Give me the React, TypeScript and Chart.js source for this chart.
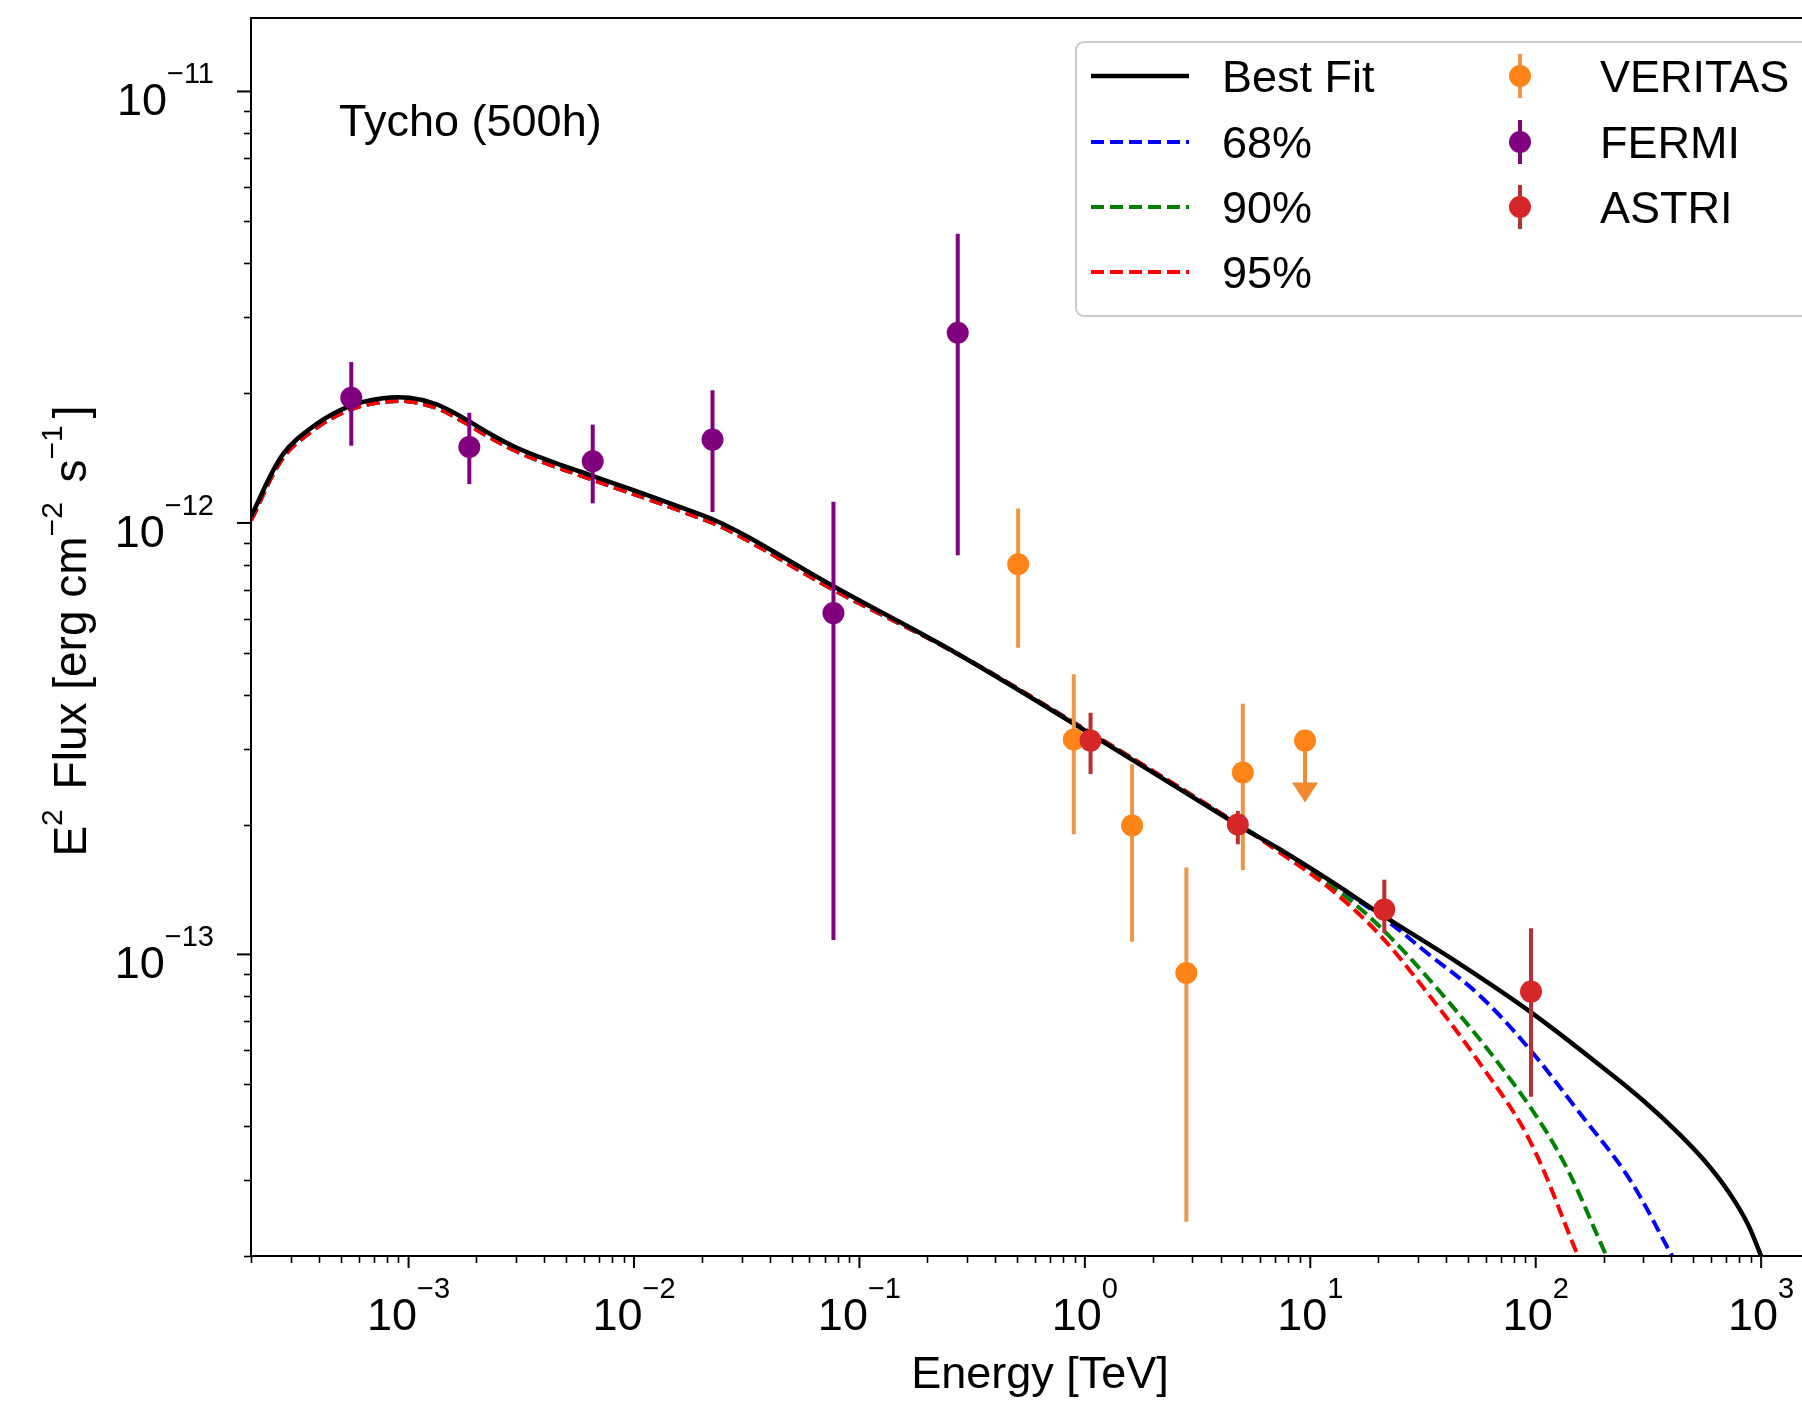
import React, { useEffect, useRef } from 'react';
import { Chart, registerables } from 'chart.js';

Chart.register(...registerables);

const FONT = '"Liberation Sans", Arial, Helvetica, sans-serif';

// ---------- axis ranges & ticks ----------
const X_MIN = 2e-4;
const X_MAX = 2000;
const Y_MIN = 2e-14;
const Y_MAX = 1.48e-11;
const X_MAJOR = [1e-3, 1e-2, 1e-1, 1, 10, 100, 1000];
const X_MAJOR_EXP = ['−3', '−2', '−1', '0', '1', '2', '3'];
const Y_MAJOR = [1e-13, 1e-12, 1e-11];
const Y_MAJOR_EXP = ['−13', '−12', '−11'];
const X_DECADES = [1e-4, 1e-3, 1e-2, 1e-1, 1, 10, 100, 1000];
const Y_DECADES = [1e-14, 1e-13, 1e-12, 1e-11];
const MINOR_MULT = [2, 3, 4, 5, 6, 7, 8, 9];

// ---------- model curves ----------
const E_GRID = [
  2.0e-4, 2.77e-4, 3.9e-4, 5.48e-4, 7.69e-4, 1.01e-3, 1.33e-3, 1.74e-3, 2.29e-3, 3.0e-3,
  4.22e-3, 5.92e-3, 8.32e-3, 1.17e-2, 1.64e-2, 2.31e-2, 3.24e-2, 7.67e-2, 0.273, 0.94, 4.81,
];
const F_BEST_GRID = [
  1.035e-12, 1.442e-12, 1.694e-12, 1.866e-12, 1.945e-12, 1.95e-12, 1.884e-12, 1.754e-12, 1.611e-12, 1.496e-12,
  1.393e-12, 1.309e-12, 1.23e-12, 1.156e-12, 1.084e-12, 1.012e-12, 9.25e-13, 7.13e-13, 4.97e-13, 3.37e-13, 1.99e-13,
];
const F_BAND_GRID = [
  1.014e-12, 1.413e-12, 1.66e-12, 1.829e-12, 1.906e-12, 1.911e-12, 1.846e-12, 1.719e-12, 1.579e-12, 1.466e-12,
  1.365e-12, 1.283e-12, 1.205e-12, 1.133e-12, 1.062e-12, 0.992e-12, 9.07e-13, 7.0e-13, 4.97e-13, 3.39e-13, 2.0e-13,
];

const E_BEST_TAIL = [7.23, 12.05, 21.3, 45.4, 95.7, 217, 305, 428, 560, 713, 870, 1000];
const F_BEST_TAIL = [1.76e-13, 1.49e-13, 1.225e-13, 9.55e-14, 7.33e-14, 5.27e-14, 4.55e-14, 3.86e-14, 3.33e-14, 2.83e-14, 2.38e-14, 2.0e-14];

const E_68_TAIL = [7.23, 12.05, 22.2, 33.4, 55.6, 92.7, 154, 257, 403];
const F_68_TAIL = [1.75e-13, 1.48e-13, 1.19e-13, 1.002e-13, 8.09e-14, 6.08e-14, 4.34e-14, 3.05e-14, 2.0e-14];

const E_90_TAIL = [7.23, 12.05, 20.0, 39.6, 78.2, 130, 206];
const F_90_TAIL = [1.74e-13, 1.46e-13, 1.17e-13, 7.94e-14, 5.09e-14, 3.38e-14, 2.0e-14];

const E_95_TAIL = [7.23, 12.05, 20.0, 33.4, 55.6, 92.7, 154];
const F_95_TAIL = [1.73e-13, 1.43e-13, 1.12e-13, 8.09e-14, 5.66e-14, 3.76e-14, 2.0e-14];

// ---------- measurements ----------
const VERITAS_E = [0.506, 0.893, 1.62, 2.82, 5.02];
const VERITAS_F = [8.02e-13, 3.15e-13, 1.99e-13, 9.06e-14, 2.64e-13];
const VERITAS_LO = [5.14e-13, 1.9e-13, 1.07e-13, 2.4e-14, 1.57e-13];
const VERITAS_HI = [1.08e-12, 4.46e-13, 2.76e-13, 1.59e-13, 3.81e-13];
const VERITAS_UL_E = [9.48];
const VERITAS_UL_F = [3.13e-13];
const VERITAS_UL_TIP = [2.25e-13];

const FERMI_E = [5.57e-4, 1.86e-3, 6.56e-3, 2.23e-2, 7.67e-2, 0.273];
const FERMI_F = [1.95e-12, 1.5e-12, 1.39e-12, 1.56e-12, 6.18e-13, 2.76e-12];
const FERMI_LO = [1.51e-12, 1.23e-12, 1.11e-12, 1.06e-12, 1.08e-13, 8.42e-13];
const FERMI_HI = [2.36e-12, 1.8e-12, 1.69e-12, 2.03e-12, 1.12e-12, 4.68e-12];

const ASTRI_E = [1.06, 4.77, 21.3, 95.3];
const ASTRI_F = [3.13e-13, 2.0e-13, 1.27e-13, 8.2e-14];
const ASTRI_LO = [2.62e-13, 1.8e-13, 1.12e-13, 4.68e-14];
const ASTRI_HI = [3.63e-13, 2.15e-13, 1.49e-13, 1.15e-13];

const pts = (xs: number[], ys: number[]) => xs.map((x, i) => ({ x, y: ys[i] }));

function drawSegments(ctx: CanvasRenderingContext2D, segs: { t: string; sup?: boolean }[], x: number, y: number, align: string, main: number, sup: number, rise: number, gap = 0) {
  const widths = segs.map((s) => {
    ctx.font = `${s.sup ? sup : main}px ${FONT}`;
    return ctx.measureText(s.t).width + (s.sup ? gap : 0);
  });
  const total = widths.reduce((a, b) => a + b, 0);
  let cx = align === 'center' ? x - total / 2 : align === 'right' ? x - total : x;
  ctx.textAlign = 'left';
  ctx.textBaseline = 'alphabetic';
  segs.forEach((s, i) => {
    ctx.font = `${s.sup ? sup : main}px ${FONT}`;
    ctx.fillText(s.t, cx, s.sup ? y - rise : y);
    cx += widths[i];
  });
}

const errPlugin = {
  id: 'errbars',
  beforeDatasetDraw(chart: any, args: any) {
    const ds = chart.data.datasets[args.index];
    if (!ds.errLo && !ds.ulTip) return;
    const { ctx, chartArea: a } = chart;
    const xs = chart.scales.x;
    const ys = chart.scales.y;
    ctx.save();
    ctx.beginPath();
    ctx.rect(a.left, a.top, a.right - a.left, a.bottom - a.top);
    ctx.clip();
    ctx.strokeStyle = ds.errColor;
    ctx.fillStyle = ds.errColor;
    ctx.lineWidth = 4;
    ds.data.forEach((p: any, i: number) => {
      const px = xs.getPixelForValue(p.x);
      if (ds.errLo) {
        ctx.beginPath();
        ctx.moveTo(px, ys.getPixelForValue(ds.errLo[i]));
        ctx.lineTo(px, ys.getPixelForValue(ds.errHi[i]));
        ctx.stroke();
      }
      if (ds.ulTip) {
        const y0 = ys.getPixelForValue(p.y);
        const yt = ys.getPixelForValue(ds.ulTip[i]);
        ctx.beginPath();
        ctx.moveTo(px, y0);
        ctx.lineTo(px, yt - 18);
        ctx.stroke();
        ctx.beginPath();
        ctx.moveTo(px - 13, yt - 20);
        ctx.lineTo(px + 13, yt - 20);
        ctx.lineTo(px, yt);
        ctx.closePath();
        ctx.fill();
      }
    });
    ctx.restore();
  },
};

const axesPlugin = {
  id: 'axesDecor',
  beforeDraw(chart: any) {
    const { ctx, width, height } = chart;
    ctx.save();
    ctx.fillStyle = '#ffffff';
    ctx.fillRect(0, 0, width, height);
    ctx.restore();
  },
  afterDraw(chart: any) {
    const { ctx, chartArea: a } = chart;
    const xs = chart.scales.x;
    const ys = chart.scales.y;
    ctx.save();
    ctx.strokeStyle = '#000';
    ctx.fillStyle = '#000';
    // frame
    ctx.lineWidth = 2;
    ctx.strokeRect(a.left, a.top, a.right - a.left, a.bottom - a.top);
    // x ticks
    X_DECADES.forEach((d) => {
      MINOR_MULT.forEach((m) => {
        const v = d * m;
        if (v < X_MIN || v > X_MAX) return;
        const px = Math.round(xs.getPixelForValue(v)) + 0.5;
        ctx.lineWidth = 1.6;
        ctx.beginPath();
        ctx.moveTo(px, a.bottom);
        ctx.lineTo(px, a.bottom + 7);
        ctx.stroke();
      });
    });
    X_MAJOR.forEach((v, i) => {
      const px = xs.getPixelForValue(v);
      ctx.lineWidth = 2;
      ctx.beginPath();
      ctx.moveTo(px, a.bottom);
      ctx.lineTo(px, a.bottom + 12);
      ctx.stroke();
      drawSegments(ctx, [{ t: '10' }, { t: X_MAJOR_EXP[i], sup: true }], px, 1330, 'center', 45, 29, 32);
    });
    // y ticks
    Y_DECADES.forEach((d) => {
      MINOR_MULT.forEach((m) => {
        const v = d * m;
        if (v < Y_MIN || v > Y_MAX) return;
        const py = Math.round(ys.getPixelForValue(v)) + 0.5;
        ctx.lineWidth = 1.6;
        ctx.beginPath();
        ctx.moveTo(a.left, py);
        ctx.lineTo(a.left - 7, py);
        ctx.stroke();
      });
    });
    Y_MAJOR.forEach((v, i) => {
      const py = ys.getPixelForValue(v);
      ctx.lineWidth = 2;
      ctx.beginPath();
      ctx.moveTo(a.left, py);
      ctx.lineTo(a.left - 14, py);
      ctx.stroke();
      drawSegments(ctx, [{ t: '10' }, { t: Y_MAJOR_EXP[i], sup: true }], 214, py + 24, 'right', 45, 29, 32);
    });
    // axis titles
    ctx.font = `45px ${FONT}`;
    ctx.textAlign = 'center';
    ctx.textBaseline = 'alphabetic';
    ctx.fillText('Energy [TeV]', (a.left + a.right) / 2, 1388);
    ctx.save();
    ctx.translate(86, 631);
    ctx.rotate(-Math.PI / 2);
    drawSegments(
      ctx,
      [
        { t: 'E' },
        { t: '2', sup: true },
        { t: ' Flux [erg cm' },
        { t: '−2', sup: true },
        { t: ' s' },
        { t: '−1', sup: true },
        { t: ']' },
      ],
      0,
      0,
      'center',
      46,
      30,
      24,
      7
    );
    ctx.restore();
    // annotation
    ctx.font = `45px ${FONT}`;
    ctx.textAlign = 'left';
    ctx.fillText('Tycho (500h)', 339, 136);

    // legend
    const lx = 1076;
    const ly = 42;
    const lw = 745;
    const lh = 274;
    ctx.beginPath();
    ctx.roundRect(lx, ly, lw, lh, 8);
    ctx.fillStyle = 'rgba(255,255,255,0.85)';
    ctx.fill();
    ctx.strokeStyle = '#cccccc';
    ctx.lineWidth = 2;
    ctx.stroke();
    const rowY = [76, 142, 207, 272];
    chart.data.datasets.forEach((ds: any) => {
      if (ds.legendRow === undefined) return;
      const cy = rowY[ds.legendRow];
      if (ds.legendCol === 0) {
        ctx.save();
        ctx.strokeStyle = ds.borderColor;
        ctx.lineWidth = ds.borderWidth;
        ctx.setLineDash(ds.borderDash || []);
        ctx.beginPath();
        ctx.moveTo(1091, cy);
        ctx.lineTo(1189, cy);
        ctx.stroke();
        ctx.restore();
        ctx.fillStyle = '#000';
        ctx.font = `45px ${FONT}`;
        ctx.textAlign = 'left';
        ctx.fillText(ds.label, 1222, cy + 16);
      } else {
        const mx = 1520;
        ctx.strokeStyle = ds.errColor;
        ctx.lineWidth = 4;
        ctx.beginPath();
        ctx.moveTo(mx, cy - 22);
        ctx.lineTo(mx, cy + 22);
        ctx.stroke();
        ctx.fillStyle = ds.pointBackgroundColor;
        ctx.beginPath();
        ctx.arc(mx, cy, 11, 0, Math.PI * 2);
        ctx.fill();
        ctx.fillStyle = '#000';
        ctx.font = `45px ${FONT}`;
        ctx.textAlign = 'left';
        ctx.fillText(ds.label, 1600, cy + 16);
      }
    });
    ctx.restore();
  },
};

export default function App() {
  const canvasRef = useRef<HTMLCanvasElement | null>(null);

  useEffect(() => {
    if (!canvasRef.current) return;
    const curve = (label: string, e: number[], f: number[], color: string, dash: number[], order: number, row: number, width: number) => ({
      label,
      data: pts(e, f),
      showLine: true,
      borderColor: color,
      backgroundColor: color,
      borderWidth: width,
      borderDash: dash,
      pointRadius: 0,
      tension: 0.35,
      order,
      legendCol: 0,
      legendRow: row,
    });
    const marker = (label: string, e: number[], f: number[], color: string, errColor: string, order: number, extra: any) => ({
      label,
      data: pts(e, f),
      showLine: false,
      pointRadius: 11,
      pointHoverRadius: 11,
      pointBackgroundColor: color,
      pointBorderColor: color,
      pointBorderWidth: 0,
      backgroundColor: color,
      borderColor: color,
      errColor,
      order,
      ...extra,
    });
    const datasets: any[] = [
      curve('Best Fit', [...E_GRID, ...E_BEST_TAIL], [...F_BEST_GRID, ...F_BEST_TAIL], '#000000', [], 10, 0, 4.5),
      curve('95%', [...E_GRID, ...E_95_TAIL], [...F_BAND_GRID, ...F_95_TAIL], '#ff0000', [13, 6], 11, 3, 4),
      curve('90%', [...E_GRID, ...E_90_TAIL], [...F_BAND_GRID, ...F_90_TAIL], '#008000', [13, 6], 12, 2, 4),
      curve('68%', [...E_GRID, ...E_68_TAIL], [...F_BAND_GRID, ...F_68_TAIL], '#0000ff', [13, 6], 13, 1, 4),
      marker('VERITAS', VERITAS_E, VERITAS_F, '#ff8418', '#ec9648', 4, { errLo: VERITAS_LO, errHi: VERITAS_HI, legendCol: 1, legendRow: 0 }),
      marker('VERITAS UL', VERITAS_UL_E, VERITAS_UL_F, '#ff8418', '#f08a2c', 4, { ulTip: VERITAS_UL_TIP }),
      marker('FERMI', FERMI_E, FERMI_F, '#800080', '#800080', 3, { errLo: FERMI_LO, errHi: FERMI_HI, legendCol: 1, legendRow: 1 }),
      marker('ASTRI', ASTRI_E, ASTRI_F, '#d62728', '#b8312f', 2, { errLo: ASTRI_LO, errHi: ASTRI_HI, legendCol: 1, legendRow: 2 }),
    ];

    const chart = new Chart(canvasRef.current, {
      type: 'scatter',
      data: { datasets },
      options: {
        animation: false,
        responsive: false,
        maintainAspectRatio: false,
        devicePixelRatio: 1,
        events: [],
        layout: { padding: { top: 18, right: 9, left: 0, bottom: 0 } },
        plugins: { legend: { display: false }, tooltip: { enabled: false }, title: { display: false } },
        scales: {
          x: {
            type: 'logarithmic',
            position: 'bottom',
            min: X_MIN,
            max: X_MAX,
            ticks: { display: false },
            grid: { display: false },
            border: { display: false },
            afterFit: (s: any) => {
              s.height = 145;
            },
          },
          y: {
            type: 'logarithmic',
            position: 'left',
            min: Y_MIN,
            max: Y_MAX,
            ticks: { display: false },
            grid: { display: false },
            border: { display: false },
            afterFit: (s: any) => {
              s.width = 251;
            },
          },
        },
      } as any,
      plugins: [errPlugin, axesPlugin],
    });
    return () => chart.destroy();
  }, []);

  return (
    <div style={{ position: 'fixed', left: 0, top: 0, width: '100vw', height: '100vh', overflow: 'hidden', background: '#fff' }}>
      <canvas
        ref={canvasRef}
        width={1840}
        height={1401}
        style={{ position: 'absolute', left: 0, top: 0, width: '1840px', height: '1401px', display: 'block' }}
      />
    </div>
  );
}
